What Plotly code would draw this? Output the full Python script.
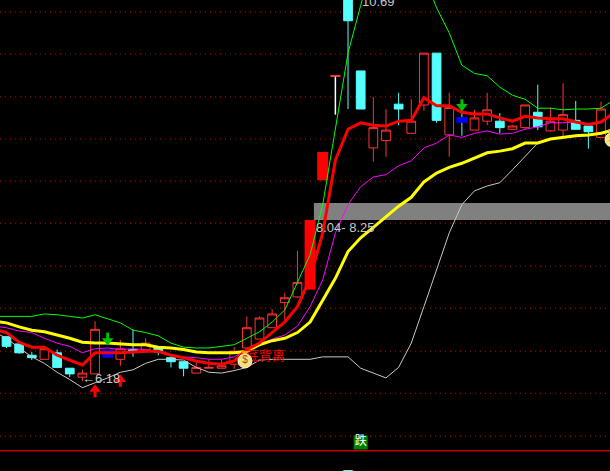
import plotly.graph_objects as go

# slots: 0 and 49 are off-screen continuation points for the indicator lines
slots = list(range(50))
N = None

opens = [N,6.60,6.51,6.37,6.32,6.40,6.21,6.10,6.14,N,6.32,6.44,6.44,6.46,6.34,6.29,6.15,6.21,6.21,6.26,6.46,6.57,6.71,7.02,7.09,N,N,N,10.88,9.88,8.93,9.02,9.47,9.11,9.46,10.10,9.09,N,9.15,9.26,9.26,9.16,9.18,9.37,9.14,9.15,9.27,9.20,9.06,N]
highs = [N,6.60,6.51,6.41,6.48,6.44,6.21,6.19,6.79,N,6.56,6.69,6.58,6.46,6.37,6.29,6.30,6.32,6.32,6.47,6.85,6.85,6.94,7.14,7.66,N,N,N,10.88,9.88,9.56,9.41,9.61,9.53,10.10,10.10,9.61,N,9.40,9.61,9.36,9.21,9.46,9.71,9.43,9.73,9.51,9.21,9.50,N]
lows = [N,6.46,6.39,6.31,6.32,6.21,6.10,6.05,6.14,N,6.24,6.35,6.41,6.37,6.22,6.11,6.15,6.21,6.21,6.20,6.21,6.57,6.71,6.77,7.08,N,N,N,9.41,9.41,8.76,8.82,9.21,9.11,9.39,9.24,8.82,N,9.15,9.21,9.11,9.16,9.16,9.15,9.13,9.06,9.16,8.92,9.06,N]
closes = [N,6.48,6.40,6.34,6.45,6.22,6.14,6.15,6.69,N,6.45,6.41,6.52,6.41,6.29,6.21,6.22,6.22,6.24,6.42,6.71,6.83,6.88,7.08,7.27,N,N,N,10.50,9.41,9.18,9.15,9.41,9.26,10.10,9.27,9.43,N,9.30,9.40,9.18,9.20,9.46,9.19,9.26,9.34,9.16,9.13,9.41,N]

line_red = [6.69,6.65,6.53,6.47,6.47,6.37,6.31,6.25,6.40,6.40,6.40,6.41,6.42,6.42,6.37,6.34,6.30,6.27,6.26,6.30,6.44,6.52,6.65,6.78,6.97,7.32,7.88,8.78,9.16,9.24,9.21,9.20,9.26,9.27,9.55,9.45,9.45,9.37,9.35,9.35,9.30,9.26,9.32,9.30,9.29,9.29,9.25,9.22,9.25,9.36]
line_yellow = [6.79,6.77,6.72,6.68,6.66,6.62,6.58,6.53,6.52,6.52,6.51,6.50,6.50,6.47,6.46,6.44,6.41,6.40,6.40,6.40,6.42,6.50,6.55,6.58,6.65,6.78,7.05,7.32,7.65,7.82,7.95,8.08,8.21,8.32,8.51,8.62,8.69,8.74,8.81,8.87,8.89,8.92,8.99,8.99,9.04,9.06,9.08,9.09,9.11,9.15]
line_magenta = [6.73,6.71,6.67,6.65,6.58,6.52,6.48,6.40,6.45,6.46,6.44,6.45,6.44,6.41,6.37,6.35,6.34,6.32,6.32,6.35,6.44,6.51,6.57,6.62,6.73,6.97,7.30,7.88,8.23,8.45,8.57,8.60,8.71,8.77,8.93,8.99,9.09,9.06,9.11,9.14,9.10,9.11,9.16,9.19,9.24,9.24,9.25,9.22,9.26,9.36]
line_green = [6.85,6.85,6.85,6.85,6.88,6.87,6.85,6.83,6.87,6.82,6.77,6.68,6.65,6.61,6.52,6.47,6.46,6.46,6.48,6.50,6.58,6.66,6.78,6.93,7.27,7.61,8.23,9.18,10.10,10.69,11.25,11.62,11.74,11.62,11.06,10.66,10.35,9.95,9.85,9.82,9.68,9.58,9.53,9.42,9.42,9.40,9.41,9.41,9.42,9.52]
line_grey = [6.66,6.58,6.46,6.35,6.27,6.16,6.07,5.97,6.03,6.09,6.16,6.19,6.27,6.32,6.32,6.31,6.22,6.16,6.15,6.18,6.22,6.31,6.32,6.32,6.32,6.32,6.35,6.35,6.35,6.21,6.15,6.09,6.22,6.52,6.97,7.42,7.88,8.23,8.40,8.46,8.50,8.66,8.82,8.99,9.04,9.06,9.08,9.08,9.11,9.18]

solid_x = [25, 26]
solid_open = [7.18, 8.53]
solid_close = [8.04, 8.88]
doji_x = 27
doji_high = 9.81
doji_low = 9.34
blue_x = [9, 37]
blue_bottom = [6.34, 9.24]
blue_top = [6.44, 9.31]
blue_wick_high = [6.44, 9.36]
blue_wick_low = [6.34, 9.08]

grid_levels = [10.61,10.09,9.56,9.04,8.52,8.00,7.47,6.95,6.42,5.90,5.37]
baseline_level = 5.19
band_low, band_high = 8.04, 8.25
band_start_slot = 25.3

arrow_up_x = [8, 10]
arrow_up_head = [5.95, 6.07]
arrow_up_tail = [5.85, 5.98]
arrow_down_x = [9, 37]
arrow_down_head = [6.55, 9.44]
arrow_down_tail = [6.65, 9.53]

labels = ["10.69", "8.04- 8.25", "←6.18", "底背离"]
label_x = [29.1, 25.47, 6.97, 19.93]
label_y = [10.72, 7.93, 6.07, 6.35]
label_colors = ["#c8c8c8", "#c8c8c8", "#c8c8c8", "#ff0000"]

icon_x = [19.85, 48.87]
icon_y = [6.30, 9.03]

RED = "#ff3333"
CYAN = "#55ffff"
fig = go.Figure()

fig.add_trace(go.Bar(x=solid_x, y=[c - o for o, c in zip(solid_open, solid_close)], base=solid_open,
                     width=0.87, marker=dict(color="#ff0000", line_width=0)))
fig.add_trace(go.Bar(x=[doji_x], y=[0.014], base=[doji_high], width=0.8, marker=dict(color=RED, line_width=0)))
fig.add_trace(go.Bar(x=blue_x, y=[t - b for t, b in zip(blue_top, blue_bottom)], base=blue_bottom,
                     width=0.87, marker=dict(color="#0000ff", line_width=0)))
fig.add_trace(go.Bar(x=[28], y=[0.06], base=[4.893], width=0.75, marker=dict(color=CYAN, line_width=0)))

fig.add_trace(go.Candlestick(
    x=slots, open=opens, high=highs, low=lows, close=closes, whiskerwidth=0,
    increasing=dict(line=dict(color=RED, width=1), fillcolor="#000000"),
    decreasing=dict(line=dict(color=CYAN, width=1), fillcolor=CYAN),
))

fig.add_trace(go.Scatter(x=[doji_x, doji_x], y=[doji_high, doji_low], mode="lines",
                         line=dict(color="#ffffff", width=1.5)))
wx, wy = [], []
for x, hi, t, b, lo in zip(blue_x[1:], blue_wick_high[1:], blue_top[1:], blue_bottom[1:], blue_wick_low[1:]):
    wx += [x, x, None, x, x, None]
    wy += [hi, t, None, b, lo, None]
fig.add_trace(go.Scatter(x=wx, y=wy, mode="lines", line=dict(color=CYAN, width=1)))

for vals, col, w in [(line_grey, "#c8c8c8", 1), (line_green, "#00ff00", 1), (line_magenta, "#ff00ff", 1),
                     (line_yellow, "#ffff00", 3), (line_red, "#ff0000", 3)]:
    fig.add_trace(go.Scatter(x=slots, y=vals, mode="lines", line=dict(color=col, width=w)))

for xs, heads, tails, col, sym in [(arrow_up_x, arrow_up_head, arrow_up_tail, "#ff0000", "triangle-up"),
                                   (arrow_down_x, arrow_down_head, arrow_down_tail, "#00c000", "triangle-down")]:
    sx, sy = [], []
    for x, h, t in zip(xs, heads, tails):
        sx += [x, x, None]
        sy += [h, t, None]
    fig.add_trace(go.Scatter(x=sx, y=sy, mode="lines", line=dict(color=col, width=3)))
    fig.add_trace(go.Scatter(x=xs, y=heads, mode="markers",
                             marker=dict(symbol=sym, size=10, color=col, line_width=0)))

fig.add_trace(go.Scatter(x=label_x, y=label_y, mode="text", text=labels, textposition="middle right",
                         textfont=dict(family="Liberation Sans, Noto Sans CJK SC", size=13, color=label_colors)))

fig.add_trace(go.Scatter(x=icon_x, y=[v + 0.1 for v in icon_y], mode="markers",
                         marker=dict(symbol="triangle-down", size=7, color="#ff9a20", line_width=0)))
fig.add_trace(go.Scatter(x=icon_x, y=icon_y, mode="markers+text", text=["$", "$"], textposition="middle center",
                         textfont=dict(family="Liberation Sans", size=10, color="#8a5a10"),
                         marker=dict(symbol="circle", size=14, color="#f6df80",
                                     line=dict(color="#fff6c0", width=1))))

fig.add_trace(go.Scatter(x=[29], y=[5.293], mode="markers+text", text=["跌"], textposition="middle center",
                         textfont=dict(family="Noto Sans CJK SC", size=12, color="#ffffff"),
                         marker=dict(symbol="square", size=14, color="#008000", line_width=0)))

shapes = [dict(type="line", xref="paper", x0=0, x1=1, yref="y", y0=lv, y1=lv, layer="below",
               line=dict(color="#d00000", width=1, dash="1px,4px")) for lv in grid_levels]
shapes.append(dict(type="line", xref="paper", x0=0, x1=1, yref="y", y0=baseline_level, y1=baseline_level,
                   layer="below", line=dict(color="#c80000", width=1.5)))
shapes.append(dict(type="rect", xref="x", x0=band_start_slot, x1=60, yref="y", y0=band_low, y1=band_high,
                   layer="below", fillcolor="#808080", line_width=0))

fig.update_layout(
    width=610, height=471, autosize=False, margin=dict(l=0, r=0, t=0, b=0),
    paper_bgcolor="#000000", plot_bgcolor="#000000", showlegend=False,
    barmode="overlay", boxgap=0.31, boxgroupgap=0, shapes=shapes,
    xaxis=dict(range=[0.486, 48.71], visible=False, rangeslider=dict(visible=False), showgrid=False),
    yaxis=dict(range=[4.941, 10.756], visible=False, showgrid=False),
)
fig.write_html("out.html", config=dict(displayModeBar=False),
               post_script="document.body.style.margin='0';document.documentElement.style.overflow='hidden';document.documentElement.style.background='#000';")
